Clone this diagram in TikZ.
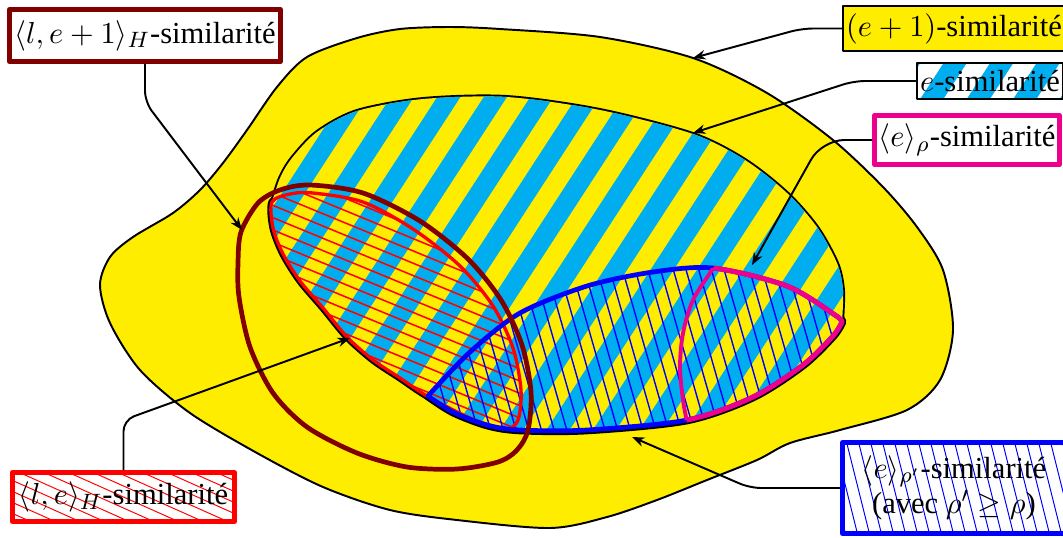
\documentclass[tikz,border=0pt]{standalone}
\usepackage{fontspec}
\setmainfont{Liberation Serif}
\usetikzlibrary{arrows.meta,calc}
\definecolor{yel}{RGB}{255,237,0}
\definecolor{cya}{RGB}{0,174,239}
\definecolor{mag}{RGB}{236,0,140}
\definecolor{maroonc}{RGB}{128,0,0}
\begin{document}
\begin{tikzpicture}[x=0.36pt,y=-0.36pt,line join=round,
  conn/.style={draw=black,line width=0.7pt,-{Stealth[length=4.5pt,width=3.4pt]},rounded corners=4pt},
  boxbase/.style={inner sep=0pt,align=center,font=\rmfamily\fontsize{11}{12.8}\selectfont},
  mbox/.style={boxbase,draw=maroonc,line width=1.8pt,fill=white,minimum width=97.6pt,minimum height=18.7pt},
  ybox/.style={boxbase,draw=black,line width=0.7pt,fill=yel,minimum width=80pt,minimum height=16.2pt},
  ebox/.style={boxbase,draw=black,line width=0.7pt,minimum width=52.6pt,minimum height=13pt,
    path picture={\fill[white] (path picture bounding box.south west) rectangle (path picture bounding box.north east);
      \foreach \k in {-6,...,6} \draw[cya,line width=7pt] ($(path picture bounding box.center)+(46.5*\k-109,168)$) -- ++(218,-336);}},
  rbox/.style={boxbase,draw=mag,line width=1.8pt,fill=white,minimum width=66.6pt,minimum height=17.6pt},
  lbox/.style={boxbase,draw=red,line width=1.8pt,fill=white,minimum width=80pt,minimum height=17.6pt,
    path picture={\foreach \k in {-10,...,10} \draw[red,line width=0.35pt] ($(path picture bounding box.center)+(-150,11*\k-67)$) -- ++(300,134);}},
  bbox/.style={boxbase,draw=blue,line width=1.8pt,fill=white,minimum width=80.3pt,minimum height=32.8pt,
    path picture={\foreach \k in {-12,...,12} \draw[blue,line width=0.35pt] ($(path picture bounding box.center)+(12*\k-15,-60)$) -- ++(30,120);}}
]
\useasboundingbox (0,0) rectangle (1063,537);
\fill[white] (0,0) rectangle (1063,537);

\def\blobpath{plot[smooth cycle] coordinates {(100,285) (110,257) (133,237) (173,213) (200,190) (223,163) (247,130) (277,87) (307,57) (357,38) (400,29) (450,27) (500,29) (600,37) (693,58) (767,93) (833,140) (883,187) (917,227) (943,270) (953,330) (940,380) (907,410) (840,430) (790,443) (757,460) (707,480) (657,500) (607,517) (550,528) (457,520) (390,510) (323,487) (257,453) (190,413) (140,370) (110,323)}}
\def\Earc{plot[smooth] coordinates {(272,202) (280,178) (292,158) (317,132) (357,111) (423,99) (507,97) (600,110) (693,134) (745,160) (787,193) (817,227) (837,263) (843,290) (842,322)}}
\def\redpath{plot[smooth cycle] coordinates {(272,202) (290,194) (313,193) (363,202) (413,229) (460,266) (493,306) (513,348) (521,390) (518,420) (505,429) (470,418) (427,396) (400,378) (373,360) (347,337) (323,308) (300,281) (283,254) (273,228)}}
\def\bluepath{plot[smooth] coordinates {(428,396) (470,352) (520,313) (587,286) (653,272) (713,268) (787,286) (835,315) (842,322)} -- plot[smooth] coordinates {(842,322) (833,336) (803,365) (753,397) (687,420) (587,430) (520,430) (487,425) (453,412) (428,396)} -- cycle}
\def\maroonpath{plot[smooth cycle] coordinates {(241,232) (258,203) (280,190) (310,185) (363,193) (420,221) (468,259) (501,300) (522,345) (531,392) (528,430) (517,450) (498,462) (457,469) (407,467) (357,453) (307,427) (273,393) (250,347) (239,297) (238,263)}}
\def\magcurve{plot[smooth] coordinates {(727,240) (713,268) (693,300) (683,333) (680,367) (683,400) (687,423) (690,450)}}
\newcommand\stripefill{\fill[yel] (0,0) rectangle (1063,537);
  \foreach \k in {0,...,28} \draw[cya,line width=7pt] (-250+46.5*\k,600) -- ++(436,-671);}

% outer region
\path[fill=yel,draw=black,line width=0.7pt] \blobpath;

% union outline of e-region
\draw[black,line width=1.4pt] \Earc;
\draw[black,line width=2.6pt] \redpath;
\draw[black,line width=3.1pt] \bluepath;
\begin{scope}\clip \Earc -- (700,380) -- (520,400) -- (420,360) -- (300,260) -- cycle; \stripefill \end{scope}
\begin{scope}\clip \redpath; \stripefill \end{scope}
\begin{scope}\clip \bluepath; \stripefill \end{scope}

% hatchings
\begin{scope}\clip \redpath;
  \foreach \k in {0,...,32} \draw[red,line width=0.55pt] (200,40+12.3*\k) -- ++(400,165);
\end{scope}
\begin{scope}\clip \bluepath;
  \foreach \k in {0,...,38} \draw[blue,line width=0.5pt] (360+12.7*\k,240) -- ++(63,220);
\end{scope}

% outlines
\draw[red,line width=1.2pt] \redpath;
\draw[blue,line width=1.7pt] \bluepath;
\begin{scope}\clip \bluepath; \draw[mag,line width=1.4pt] \magcurve; \end{scope}
\begin{scope}\clip \magcurve -- (900,450) -- (900,240) -- cycle; \draw[mag,line width=1.8pt] \bluepath; \end{scope}
\draw[maroonc,line width=1.7pt] \maroonpath;

% labels
\node[mbox] (mb) at (145,35.5) {$\langle l, e+1\rangle_H$-similarité};
\node[ybox] (yb) at (954,28.5) {$(e+1)$-similarité};
\node[ebox] (eb) at (990,81) {$e$-similarité};
\node[rbox] (rb) at (967,140) {$\langle e\rangle_\rho$-similarité};
\node[lbox] (lb) at (123.5,497) {$\langle l, e\rangle_H$-similarité};
\node[bbox] (bb) at (954,488) {$\langle e\rangle_{\rho'}$-similarité\\(avec $\rho'\geq\rho$)};

% arrow targets
\coordinate (t1) at (242,230);
\coordinate (t2) at (693,58);
\coordinate (t3) at (693,133);
\coordinate (t4) at (752,265);
\coordinate (t5) at (350,338);
\coordinate (t6) at (632,437);

\draw[conn] (mb.south) -- ($(mb.south)+(0,38)$) -- (t1);
\draw[conn] (yb.west) -- ($(yb.west)+(-40,0)$) -- (t2);
\draw[conn] (eb.west) -- ($(eb.west)+(-62,0)$) -- (t3);
\draw[conn,rounded corners=8pt] (rb.west) -- ($(rb.west)+(-50,0)$) -- (t4);
\draw[conn] (lb.north) -- ($(lb.north)+(0,-50)$) -- (t5);
\draw[conn] (bb.west) -- ($(bb.west)+(-90,0)$) -- (t6);
\end{tikzpicture}
\end{document}
